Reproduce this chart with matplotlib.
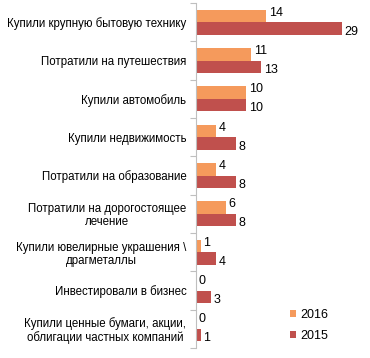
import matplotlib.pyplot as plt
import numpy as np

categories = [
    "Купили крупную бытовую технику",
    "Потратили на путешествия",
    "Купили автомобиль",
    "Купили недвижимость",
    "Потратили на образование",
    "Потратили на дорогостоящее\nлечение",
    "Купили ювелирные украшения \\\nдрагметаллы",
    "Инвестировали в бизнес",
    "Купили ценные бумаги, акции,\nоблигации частных компаний",
]
values_2016 = [14, 11, 10, 4, 4, 6, 1, 0, 0]
values_2015 = [29, 13, 10, 8, 8, 8, 4, 3, 1]
years = ["2016", "2015"]

plt.rcParams['font.family'] = ['Liberation Sans', 'DejaVu Sans']

fig = plt.figure(figsize=(3.70, 3.58), dpi=100)
ax = fig.add_axes([196 / 370, 10 / 358, 151 / 370, 345 / 358])

n = len(categories)
y = np.arange(n)
h = 0.33

ax.barh(y - h / 2, values_2016, height=h, color='#F59A5C', label=years[0])
ax.barh(y + h / 2, values_2015, height=h, color='#C0504D', label=years[1])

for yi, v in zip(y, values_2016):
    ax.text(v + 0.5, yi - h / 2 - 0.08, str(v), va='center', ha='left', fontsize=9)
for yi, v in zip(y, values_2015):
    ax.text(v + 0.5, yi + h / 2 + 0.08, str(v), va='center', ha='left', fontsize=9)

ax.set_xlim(0, 30)
ax.set_ylim(n - 0.5, -0.5)

# category labels at centres, tick marks at group boundaries
ax.set_yticks(np.arange(n + 1) - 0.5)
ax.set_yticklabels([])
ax.set_yticks(y, minor=True)
ax.set_yticklabels(categories, minor=True, fontsize=8.3, linespacing=1.1,
                   ha='right', multialignment='center')
ax.tick_params(axis='y', which='minor', length=0, pad=7)
ax.tick_params(axis='y', which='major', length=4, color='#BFBFBF')
ax.set_xticks([])

for s in ['top', 'right', 'bottom']:
    ax.spines[s].set_visible(False)
ax.spines['left'].set_color('#BFBFBF')

ax.legend(loc='lower right', bbox_to_anchor=(0.95, -0.015), frameon=False,
          fontsize=9, handlelength=0.5, handleheight=0.5, handletextpad=0.3,
          labelspacing=0.7)

fig.savefig("out.png", dpi=100)
